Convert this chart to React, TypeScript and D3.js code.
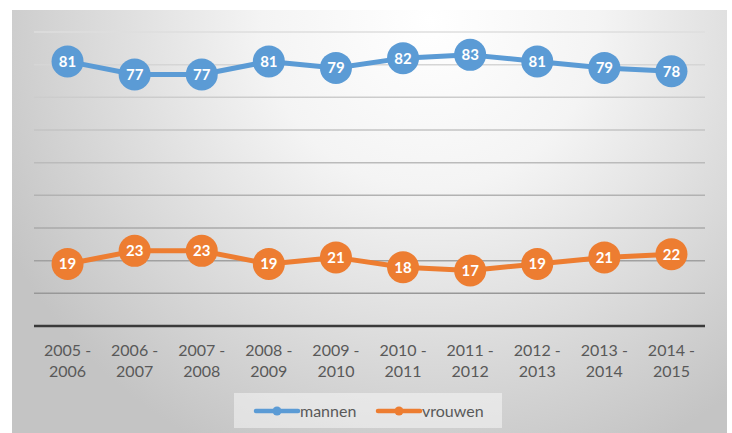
import React from "react";
import * as d3 from "d3";

const categories = ["2005 -|2006", "2006 -|2007", "2007 -|2008", "2008 -|2009", "2009 -|2010", "2010 -|2011", "2011 -|2012", "2012 -|2013", "2013 -|2014", "2014 -|2015"];
const mannen = [81, 77, 77, 81, 79, 82, 83, 81, 79, 78];
const vrouwen = [19, 23, 23, 19, 21, 18, 17, 19, 21, 22];
const yTicks = [10, 20, 30, 40, 50, 60, 70, 80, 90];
const seriesNames = ["mannen", "vrouwen"];
const seriesColors = ["#5B9BD5", "#ED7D31"];

const W = 732, H = 433;
const plot = { left: 34, right: 705, top: 32, bottom: 326 };
const FONT = "Lato, 'Open Sans', 'DejaVu Sans', sans-serif";

export default function App() {
  const x = d3.scaleBand().domain(categories).range([plot.left, plot.right]);
  const y = d3.scaleLinear().domain([0, 90]).range([plot.bottom, plot.top]);
  const line = d3.line<number>()
    .x((_, i) => (x(categories[i]) as number) + x.bandwidth() / 2)
    .y((d) => y(d));
  const series = [mannen, vrouwen];

  return (
    <svg width={W} height={H} style={{ position: "absolute", left: 0, top: 0 }}>
      <defs>
        <radialGradient id="bg" gradientUnits="userSpaceOnUse" cx={430} cy={20} r={480}>
          <stop offset="0" stopColor="#ffffff" />
          <stop offset="0.35" stopColor="#f4f4f4" />
          <stop offset="1" stopColor="#c4c4c4" />
        </radialGradient>
        <linearGradient id="grid" gradientUnits="userSpaceOnUse" x1={0} y1={plot.top} x2={0} y2={plot.bottom}>
          <stop offset="0" stopColor="#dedede" />
          <stop offset="1" stopColor="#8f8f8f" />
        </linearGradient>
      </defs>
      <rect x={0} y={0} width={W} height={H} fill="#ffffff" />
      <rect x={12} y={10} width={715} height={H - 10} fill="url(#bg)" />
      {yTicks.map((t) => (
        <line key={t} x1={plot.left} x2={plot.right} y1={y(t)} y2={y(t)} stroke="url(#grid)" strokeWidth={1.5} />
      ))}
      <line x1={plot.left} x2={plot.right} y1={y(0)} y2={y(0)} stroke="#3a3a3a" strokeWidth={2.5} />
      {categories.map((c) => {
        const [a, b] = c.split("|");
        const cx = (x(c) as number) + x.bandwidth() / 2;
        return (
          <text key={c} x={cx} y={356} textAnchor="middle" fontFamily={FONT} fontSize={16} fill="#595959">
            <tspan x={cx}>{a}</tspan>
            <tspan x={cx} dy={21}>{b}</tspan>
          </text>
        );
      })}
      {series.map((s, si) => (
        <g key={si}>
          <path d={line(s) as string} fill="none" stroke={seriesColors[si]} strokeWidth={5} strokeLinejoin="round" />
          {s.map((v, i) => {
            const cx = (x(categories[i]) as number) + x.bandwidth() / 2;
            return (
              <g key={i}>
                <circle cx={cx} cy={y(v)} r={16} fill={seriesColors[si]} />
                <text x={cx} y={y(v)} dy="0.36em" textAnchor="middle" fontFamily={FONT} fontWeight="bold" fontSize={15} fill="#ffffff">{v}</text>
              </g>
            );
          })}
        </g>
      ))}
      <rect x={234} y={393} width={268} height={35} fill="#ffffff" fillOpacity={0.45} />
      {seriesNames.map((n, i) => {
        const lx = i === 0 ? 256 : 378;
        return (
          <g key={n}>
            <line x1={lx} x2={lx + 42} y1={411} y2={411} stroke={seriesColors[i]} strokeWidth={4.5} strokeLinecap="round" />
            <circle cx={lx + 21} cy={411} r={4.5} fill={seriesColors[i]} />
            <text x={lx + 44} y={411} dy="0.35em" fontFamily={FONT} fontSize={16} fill="#595959">{n}</text>
          </g>
        );
      })}
    </svg>
  );
}
